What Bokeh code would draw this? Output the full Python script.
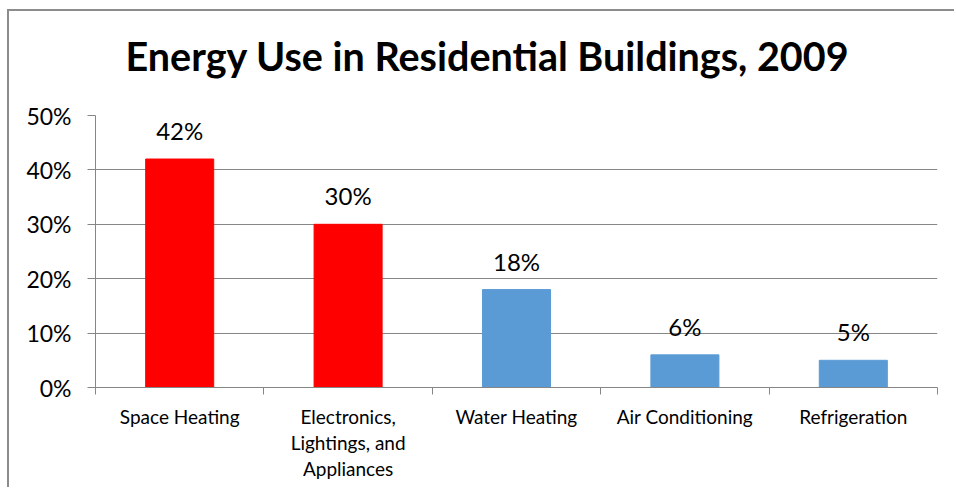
from bokeh.plotting import figure
from bokeh.models import FixedTicker, NumeralTickFormatter, ColumnDataSource, Title
from bokeh.core.properties import value
from bokeh.embed import file_html
from bokeh.resources import INLINE

categories = ["Space Heating", "Electronics,\nLightings, and\nAppliances", "Water Heating",
              "Air Conditioning", "Refrigeration"]
shares = [0.42, 0.30, 0.18, 0.06, 0.05]
share_labels = ["42%", "30%", "18%", "6%", "5%"]
bar_colors = ["#FF0000", "#FF0000", "#5B9BD5", "#5B9BD5", "#5B9BD5"]
y_ticks = [0, 0.1, 0.2, 0.3, 0.4, 0.5]
title_text = "Energy Use in Residential Buildings, 2009"

FONT = "Lato"
GRAY = "#868686"
OX, OY = 9, 11  # offset of the canvas (margin + border)
W, H = 956 - OX, 489 - OY

centers = [i + 0.5 for i in range(len(categories))]
bounds = [float(i) for i in range(len(categories) + 1)]

src = ColumnDataSource(dict(x=centers, top=shares, color=bar_colors, lab=share_labels))

p = figure(width=W, height=H, x_range=(0, len(categories)), y_range=(0, 0.5),
           output_backend="svg", toolbar_location=None,
           min_border_left=95 - OX, min_border_right=19, min_border_top=115 - OY,
           min_border_bottom=H - (115 - OY) - 272)
p.margin = (9, 0, 0, 7)
p.styles = {"border-left": "2px solid #8c8c8c", "border-top": "2px solid #8c8c8c"}
p.outline_line_color = None
p.background_fill_color = "white"
p.border_fill_color = "white"

p.title.text = title_text
p.title.align = "left"
p.title.offset = 30
p.title.text_font = FONT
p.title.text_font_style = "bold"
p.title.text_font_size = "39.5px"
p.title.text_color = "black"

# spacer between title and plot area
p.add_layout(Title(text=" ", text_font_size="12px", standoff=16), "above")

p.vbar(x="x", top="top", width=0.404, color="color", source=src)
p.text(x="x", y="top", text="lab", source=src, y_offset=-14, text_align="center",
       text_baseline="bottom", text_font=value(FONT), text_font_size="24px", text_color="black")

# y axis
p.yaxis.ticker = FixedTicker(ticks=y_ticks)
p.yaxis.formatter = NumeralTickFormatter(format="0%")
p.yaxis.major_tick_out = 8
p.yaxis.major_tick_in = 0
p.yaxis.minor_tick_out = 0
p.yaxis.minor_tick_in = 0
p.yaxis.axis_line_color = GRAY
p.yaxis.major_tick_line_color = GRAY
p.yaxis.major_label_text_font = FONT
p.yaxis.major_label_text_font_size = "23px"
p.yaxis.major_label_text_color = "black"
p.yaxis.major_label_standoff = 16

# x axis
p.xaxis.ticker = FixedTicker(ticks=centers, minor_ticks=bounds)
p.xaxis.major_label_overrides = {c: lab for c, lab in zip(centers, categories)}
p.xaxis.major_tick_out = 0
p.xaxis.major_tick_in = 0
p.xaxis.minor_tick_out = 7
p.xaxis.minor_tick_in = 0
p.xaxis.minor_tick_line_color = GRAY
p.xaxis.axis_line_color = GRAY
p.xaxis.major_label_text_font = FONT
p.xaxis.major_label_text_font_size = "19px"
p.xaxis.major_label_text_color = "black"
p.xaxis.major_label_standoff = 10
p.xaxis.major_label_text_line_height = 1.15

p.xgrid.grid_line_color = None
p.ygrid.grid_line_color = GRAY
p.ygrid.grid_line_width = 1

open("out.html", "w").write(file_html(p, INLINE))
